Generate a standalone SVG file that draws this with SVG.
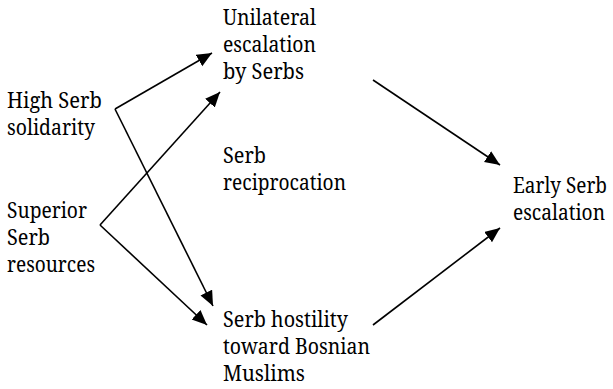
<svg xmlns="http://www.w3.org/2000/svg" width="613" height="389" viewBox="0 0 613 389">
  <style>
    .lbl { font-family: 'Noto Serif', 'DejaVu Serif', serif; font-size: 21px; fill: #000; }
    .edge { fill: none; stroke: #000; stroke-width: 1.6; marker-end: url(#arrow); }
  </style>
  <defs>
    <marker id="arrow" markerUnits="userSpaceOnUse" markerWidth="16" markerHeight="14" refX="15" refY="6.5" orient="auto">
      <path d="M0,0 L15,6.5 L0,13 z" fill="#000"/>
    </marker>
  </defs>
  <rect width="613" height="389" fill="#fff"/>

  <g id="connectors">
    <line class="edge" x1="115" y1="109" x2="212" y2="53"/>
    <line class="edge" x1="115" y1="109" x2="213" y2="306"/>
    <line class="edge" x1="100" y1="225" x2="220" y2="92"/>
    <line class="edge" x1="100" y1="225" x2="207" y2="325"/>
    <line class="edge" x1="373" y1="80" x2="500" y2="165"/>
    <line class="edge" x1="373" y1="325" x2="500" y2="228"/>
  </g>

  <g id="high-serb-solidarity" class="lbl">
    <text x="7" y="108" textLength="95" lengthAdjust="spacingAndGlyphs">High Serb</text>
    <text x="7" y="135" textLength="88" lengthAdjust="spacingAndGlyphs">solidarity</text>
  </g>
  <g id="superior-serb-resources" class="lbl">
    <text x="7" y="218" textLength="80" lengthAdjust="spacingAndGlyphs">Superior</text>
    <text x="7" y="245" textLength="43" lengthAdjust="spacingAndGlyphs">Serb</text>
    <text x="7" y="272" textLength="88" lengthAdjust="spacingAndGlyphs">resources</text>
  </g>
  <g id="unilateral-escalation" class="lbl">
    <text x="223" y="25" textLength="93" lengthAdjust="spacingAndGlyphs">Unilateral</text>
    <text x="223" y="52" textLength="93" lengthAdjust="spacingAndGlyphs">escalation</text>
    <text x="223" y="79" textLength="81" lengthAdjust="spacingAndGlyphs">by Serbs</text>
  </g>
  <g id="serb-reciprocation" class="lbl">
    <text x="223" y="163" textLength="43" lengthAdjust="spacingAndGlyphs">Serb</text>
    <text x="223" y="190" textLength="123" lengthAdjust="spacingAndGlyphs">reciprocation</text>
  </g>
  <g id="serb-hostility" class="lbl">
    <text x="223" y="327" textLength="125" lengthAdjust="spacingAndGlyphs">Serb hostility</text>
    <text x="223" y="354" textLength="147" lengthAdjust="spacingAndGlyphs">toward Bosnian</text>
    <text x="223" y="381" textLength="82" lengthAdjust="spacingAndGlyphs">Muslims</text>
  </g>
  <g id="early-serb-escalation" class="lbl">
    <text x="513" y="193" textLength="94" lengthAdjust="spacingAndGlyphs">Early Serb</text>
    <text x="513" y="220" textLength="92" lengthAdjust="spacingAndGlyphs">escalation</text>
  </g>
</svg>
